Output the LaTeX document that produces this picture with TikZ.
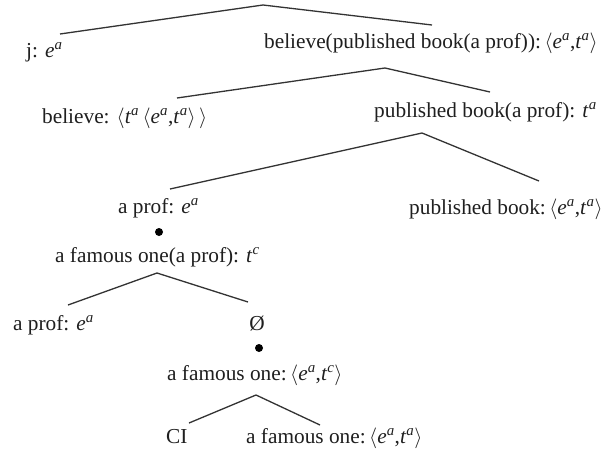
\documentclass[tikz,border=0pt]{standalone}
\usepackage{fontspec}
\setmainfont{Liberation Serif}
\newcommand{\supa}[1]{\textit{#1}\textsuperscript{\textit{a}}}
\newcommand{\supc}[1]{\textit{#1}\textsuperscript{\textit{c}}}
\begin{document}
\begin{tikzpicture}[x=1pt,y=-1pt,
  lbl/.style={anchor=base west,inner sep=0pt,font=\fontsize{21.3}{25}\selectfont,text=black!88},
  branch/.style={draw=black!80,line width=1.3pt},
  bullet/.style={circle,fill=black,inner sep=0pt,minimum size=8pt}]
\useasboundingbox[fill=white] (0,0) rectangle (607,450);
% labels
\node[lbl] (j) at (26,57) {j: \supa{e}};
\node[lbl] (bpb) at (264,48) {believe(published book(a prof)):\,$\langle$\supa{e},\supa{t}$\rangle$};
\node[lbl] (bel) at (42,123) {believe: $\langle$\supa{t}\,$\langle$\supa{e},\supa{t}$\rangle\,\rangle$};
\node[lbl] (pba) at (374,117) {published book(a prof): \supa{t}};
\node[lbl] (ap1) at (118,213) {a prof: \supa{e}};
\node[lbl] (pb) at (409,214) {published book:\,$\langle$\supa{e},\supa{t}$\rangle$};
\node[lbl] (faap) at (55,262) {a famous one(a prof): \supc{t}};
\node[lbl] (ap2) at (13,330) {a prof: \supa{e}};
\node[lbl,anchor=base] (empty) at (257,330) {Ø};
\node[lbl] (fa1) at (167,380) {a famous one:\,$\langle$\supa{e},\supc{t}$\rangle$};
\node[lbl] (ci) at (166,443) {CI};
\node[lbl] (fa2) at (246,443) {a famous one:\,$\langle$\supa{e},\supa{t}$\rangle$};
% dots
\node[bullet] (d1) at (159,232) {};
\node[bullet] (d2) at (259,348) {};
% branch points
\coordinate (r0) at (263,5);
\coordinate (r0l) at (60,34);
\coordinate (r0r) at (432,25);
\coordinate (r1) at (385,68);
\coordinate (r1l) at (177,98);
\coordinate (r1r) at (490,92);
\coordinate (r2) at (422,133);
\coordinate (r2l) at (170,189);
\coordinate (r2r) at (539,181);
\coordinate (r3) at (157,273);
\coordinate (r3l) at (68,305);
\coordinate (r3r) at (248,302);
\coordinate (r4) at (256,395);
\coordinate (r4l) at (189,423);
\coordinate (r4r) at (320,425);
\draw[branch] (r0l) -- (r0) -- (r0r);
\draw[branch] (r1l) -- (r1) -- (r1r);
\draw[branch] (r2l) -- (r2) -- (r2r);
\draw[branch] (r3l) -- (r3) -- (r3r);
\draw[branch] (r4l) -- (r4) -- (r4r);
\end{tikzpicture}
\end{document}
